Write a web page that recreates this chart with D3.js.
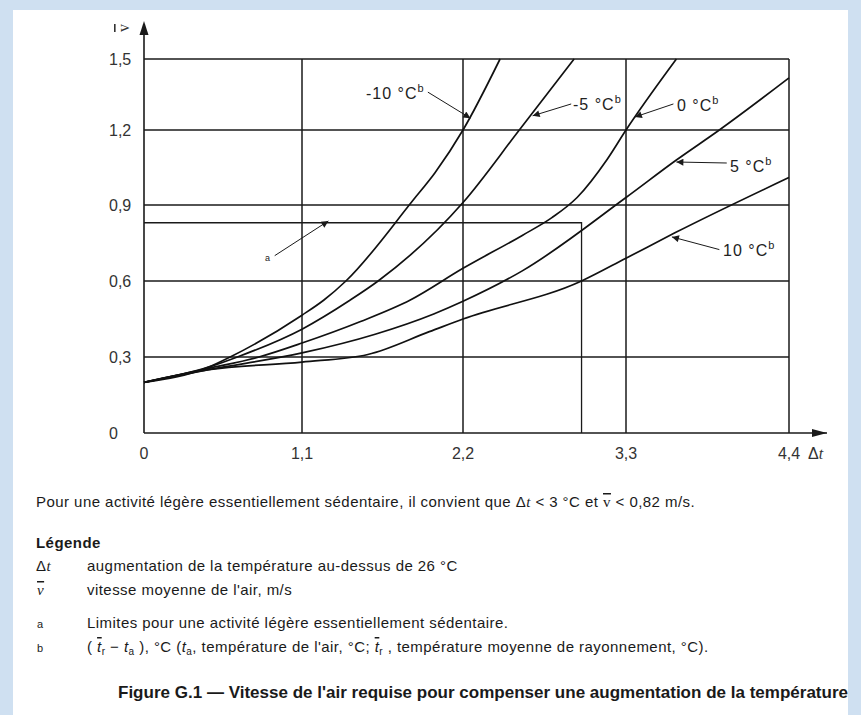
<!DOCTYPE html>
<html><head><meta charset="utf-8">
<script src="https://cdn.jsdelivr.net/npm/d3@7"></script>
<style>html,body{margin:0;padding:0;background:#cfe0f1;} svg{display:block;}</style>
</head><body>
<svg id="c" width="861" height="715"></svg>
<script>
// ---- data ----
const xTicks = [0, 1.1, 2.2, 3.3, 4.4];
const yTicks = [0, 0.3, 0.6, 0.9, 1.2, 1.5];
const xTickLabels = ["0", "1,1", "2,2", "3,3", "4,4"];
const yTickLabels = ["0", "0,3", "0,6", "0,9", "1,2", "1,5"];
const seriesNames = ["-10 °C", "-5 °C", "0 °C", "5 °C", "10 °C"];
const dtM10 = [0, 0.45, 0.6, 1.1, 1.25, 1.4, 1.86, 2.01, 2.2, 2.45];
const vM10  = [0.2, 0.26, 0.3, 0.465, 0.525, 0.6, 0.92, 1.03, 1.2, 1.5];
const dtM5  = [0, 0.45, 0.65, 1.1, 1.43, 1.62, 2.2, 2.58, 2.95];
const vM5   = [0.2, 0.26, 0.3, 0.41, 0.525, 0.6, 0.91, 1.2, 1.5];
const dt0   = [0, 0.45, 0.8, 1.1, 1.5, 1.84, 2.2, 2.6, 2.8, 2.97, 3.17, 3.3, 3.64];
const v0    = [0.2, 0.255, 0.3, 0.355, 0.44, 0.525, 0.65, 0.78, 0.85, 0.93, 1.08, 1.2, 1.5];
const dt5   = [0, 0.45, 1.1, 1.6, 2.0, 2.2, 2.6, 3.3, 3.64, 3.93, 4.4];
const v5    = [0.2, 0.25, 0.316, 0.39, 0.47, 0.52, 0.64, 0.93, 1.08, 1.2, 1.42];
const dt10  = [0, 0.45, 1.1, 1.55, 1.97, 2.2, 3.0, 3.3, 3.63, 4.4];
const v10   = [0.2, 0.25, 0.28, 0.31, 0.4, 0.45, 0.6, 0.69, 0.79, 1.01];
const limitDt = 3.0;
const limitV = 0.83;
// annotation arrows (data units): tip and tail
const annTipDt  = [2.25, 2.67, 3.36, 3.64, 3.61];
const annTipV   = [1.25, 1.26, 1.255, 1.072, 0.774];
const annTailDt = [1.96, 2.93, 3.62, 3.98, 3.93];
const annTailV  = [1.36, 1.31, 1.31, 1.068, 0.724];
const aTipDt = 1.28, aTipV = 0.837, aTailDt = 0.91, aTailV = 0.70;

const series = [
  {name: seriesNames[0], dt: dtM10, v: vM10},
  {name: seriesNames[1], dt: dtM5, v: vM5},
  {name: seriesNames[2], dt: dt0, v: v0},
  {name: seriesNames[3], dt: dt5, v: v5},
  {name: seriesNames[4], dt: dt10, v: v10}
];

const svg = d3.select("#c");
const FONT = "'Liberation Sans', Arial, sans-serif";
const SERIF = "'Liberation Serif', serif";
svg.append("rect").attr("x", 13).attr("y", 10).attr("width", 835).attr("height", 705).attr("fill", "#fff");

const x = d3.scaleLinear().domain(xTicks).range([144, 302, 463, 626, 789]);
const y = d3.scaleLinear().domain(yTicks).range([433, 357, 281, 205, 130, 59]);

const defs = svg.append("defs");
defs.append("marker").attr("id", "ah").attr("viewBox", "0 0 10 10").attr("refX", 10).attr("refY", 5)
  .attr("markerWidth", 9).attr("markerHeight", 7).attr("markerUnits", "userSpaceOnUse").attr("orient", "auto")
  .append("path").attr("d", "M0,0 L10,5 L0,10 z").attr("fill", "#1a1a1a");

const g = svg.append("g");
// grid
g.selectAll("line.h").data(yTicks.slice(1)).join("line")
  .attr("x1", x(0)).attr("x2", x(4.4)).attr("y1", d => y(d)).attr("y2", d => y(d))
  .attr("stroke", "#1a1a1a").attr("stroke-width", 1.5);
g.selectAll("line.v").data(xTicks.slice(1)).join("line")
  .attr("x1", d => x(d)).attr("x2", d => x(d)).attr("y1", y(0)).attr("y2", y(1.5))
  .attr("stroke", "#1a1a1a").attr("stroke-width", 1.5);

// axes with arrows
g.append("line").attr("x1", x(0)).attr("x2", 827).attr("y1", y(0)).attr("y2", y(0))
  .attr("stroke", "#1a1a1a").attr("stroke-width", 1.6);
g.append("path").attr("d", `M827,${y(0)} L812,${y(0)-4} L812,${y(0)+4} Z`).attr("fill", "#1a1a1a");
g.append("line").attr("x1", x(0)).attr("x2", x(0)).attr("y1", y(0)).attr("y2", 24)
  .attr("stroke", "#1a1a1a").attr("stroke-width", 1.6);
g.append("path").attr("d", `M${x(0)},21 L${x(0)-4.5},35 L${x(0)+4.5},35 Z`).attr("fill", "#1a1a1a");

// tick labels
g.selectAll("text.xt").data(xTicks).join("text")
  .attr("x", d => x(d)).attr("y", 459).attr("text-anchor", "middle")
  .attr("font-family", FONT).attr("font-size", 16).attr("fill", "#333")
  .text((d, i) => xTickLabels[i]);
g.selectAll("text.yt").data(yTicks).join("text")
  .attr("x", 109).attr("y", d => y(d) + 5.5).attr("text-anchor", "start")
  .attr("font-family", FONT).attr("font-size", 16).attr("fill", "#333")
  .text((d, i) => yTickLabels[i]);
// axis titles
const xt = g.append("text").attr("x", 808).attr("y", 459).attr("font-family", FONT).attr("font-size", 16).attr("fill", "#333");
xt.append("tspan").text("Δ");
xt.append("tspan").attr("font-style", "italic").attr("font-family", SERIF).text("t");
g.append("text").attr("transform", "translate(129,28) rotate(-90)").attr("text-anchor", "middle")
  .attr("font-family", SERIF).attr("font-size", 16).attr("fill", "#333")
  .attr("text-decoration", "overline").text("v");

// limit box "a"
g.append("path").attr("d", `M${x(0)},${y(limitV)} H${x(limitDt)} V${y(0)}`)
  .attr("fill", "none").attr("stroke", "#1a1a1a").attr("stroke-width", 1.3);

// curves
const line = d3.line().x(d => x(d[0])).y(d => y(d[1])).curve(d3.curveMonotoneX);
g.selectAll("path.curve").data(series).join("path").attr("class", "curve")
  .attr("d", s => line(s.dt.map((t, i) => [t, s.v[i]])))
  .attr("fill", "none").attr("stroke", "#111").attr("stroke-width", 1.7);

// annotations
series.forEach((s, i) => {
  g.append("line").attr("x1", x(annTailDt[i])).attr("y1", y(annTailV[i]))
    .attr("x2", x(annTipDt[i])).attr("y2", y(annTipV[i]))
    .attr("stroke", "#1a1a1a").attr("stroke-width", 1).attr("marker-end", "url(#ah)");
});
const labelPos = [[366, 99], [573, 110], [677, 111], [730, 172], [723, 256]];
series.forEach((s, i) => {
  const t = g.append("text").attr("x", labelPos[i][0]).attr("y", labelPos[i][1])
    .attr("font-family", FONT).attr("font-size", 16).attr("letter-spacing", 1).attr("fill", "#222");
  t.append("tspan").text(s.name);
  t.append("tspan").attr("dy", -7).attr("font-size", 11).text("b");
});
g.append("line").attr("x1", x(aTailDt)).attr("y1", y(aTailV)).attr("x2", x(aTipDt)).attr("y2", y(aTipV))
  .attr("stroke", "#1a1a1a").attr("stroke-width", 1).attr("marker-end", "url(#ah)");
g.append("text").attr("x", 265).attr("y", 261).attr("font-family", FONT).attr("font-size", 9).attr("fill", "#222").text("a");

// notes
const notes = svg.append("g").attr("font-family", FONT).attr("fill", "#1a1a1a").attr("letter-spacing", 0.45);
const n1 = notes.append("text").attr("x", 36).attr("y", 507).attr("font-size", 15);
n1.append("tspan").text("Pour une activité légère essentiellement sédentaire, il convient que ");
n1.append("tspan").text("Δ");
n1.append("tspan").attr("font-style", "italic").attr("font-family", SERIF).text("t");
n1.append("tspan").text(" < 3 °C et ");
n1.append("tspan").attr("font-family", SERIF).attr("text-decoration", "overline").text("v");
n1.append("tspan").text(" < 0,82 m/s.");
notes.append("text").attr("x", 36).attr("y", 548).attr("font-size", 15).attr("font-weight", "bold").text("Légende");
const r1 = notes.append("text").attr("x", 36).attr("y", 571).attr("font-size", 15);
r1.append("tspan").text("Δ");
r1.append("tspan").attr("font-style", "italic").attr("font-family", SERIF).text("t");
notes.append("text").attr("x", 87).attr("y", 571).attr("font-size", 15).text("augmentation de la température au-dessus de 26 °C");
notes.append("text").attr("x", 37).attr("y", 595).attr("font-size", 15).attr("font-family", SERIF)
  .attr("font-style", "italic").attr("text-decoration", "overline").text("v");
notes.append("text").attr("x", 87).attr("y", 595).attr("font-size", 15).text("vitesse moyenne de l'air, m/s");
notes.append("text").attr("x", 37).attr("y", 628).attr("font-size", 11).text("a");
notes.append("text").attr("x", 87).attr("y", 628).attr("font-size", 15).text("Limites pour une activité légère essentiellement sédentaire.");
notes.append("text").attr("x", 37).attr("y", 652).attr("font-size", 11).text("b");
const rb = notes.append("text").attr("x", 87).attr("y", 652).attr("font-size", 15);
rb.append("tspan").text("( ");
rb.append("tspan").attr("font-style", "italic").attr("text-decoration", "overline").text("t");
rb.append("tspan").attr("font-size", 10).attr("dy", 3).text("r");
rb.append("tspan").attr("dy", -3).text(" − ");
rb.append("tspan").attr("font-style", "italic").text("t");
rb.append("tspan").attr("font-size", 10).attr("dy", 3).text("a");
rb.append("tspan").attr("dy", -3).text(" ), °C (");
rb.append("tspan").attr("font-style", "italic").text("t");
rb.append("tspan").attr("font-size", 10).attr("dy", 3).text("a");
rb.append("tspan").attr("dy", -3).text(", température de l'air, °C; ");
rb.append("tspan").attr("font-style", "italic").attr("text-decoration", "overline").text("t");
rb.append("tspan").attr("font-size", 10).attr("dy", 3).text("r");
rb.append("tspan").attr("dy", -3).text(" , température moyenne de rayonnement, °C).");

notes.append("text").attr("x", 118).attr("y", 698).attr("font-size", 16.5).attr("font-weight", "bold")
  .attr("letter-spacing", 0)
  .attr("textLength", 730).attr("lengthAdjust", "spacingAndGlyphs")
  .text("Figure G.1 — Vitesse de l'air requise pour compenser une augmentation de la température");
</script>
</body></html>
